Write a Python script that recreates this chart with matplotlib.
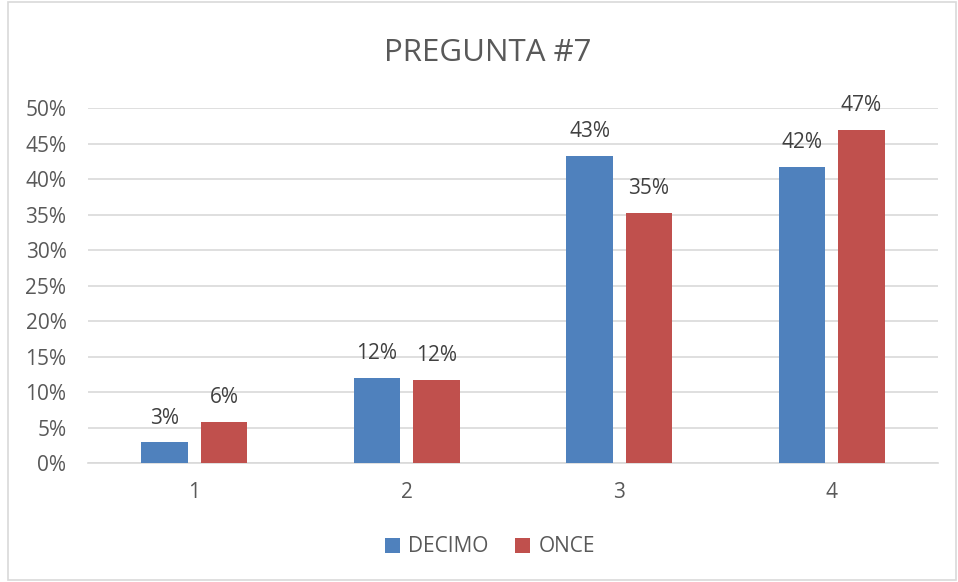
import numpy as np
import matplotlib.pyplot as plt
from matplotlib.patches import Rectangle

# data
categories = ['1', '2', '3', '4']
decimo = [2.9, 11.95, 43.3, 41.75]
once = [5.85, 11.7, 35.25, 47.0]
decimo_labels = ['3%', '12%', '43%', '42%']
once_labels = ['6%', '12%', '35%', '47%']

plt.rcParams['font.family'] = ['Open Sans', 'DejaVu Sans']
txt = '#595959'
grid = '#D9D9D9'

fig = plt.figure(figsize=(9.58, 5.82), dpi=100)
ax = fig.add_axes([88/958, 1-463/582, 850/958, (463-108.3)/582])

x = np.arange(1, len(categories) + 1)
w = 0.22
b1 = ax.bar(x - 0.14, decimo, w, color='#4F81BD', label='DECIMO', zorder=3)
b2 = ax.bar(x + 0.14, once, w, color='#C0504D', label='ONCE', zorder=3)

for bars, labels in ((b1, decimo_labels), (b2, once_labels)):
    for r, lab in zip(bars, labels):
        ax.annotate(lab, (r.get_x() + r.get_width()/2, r.get_height()),
                    xytext=(0, 10), textcoords='offset points',
                    ha='center', va='bottom', fontsize=15, color='#404040')

ax.set_xlim(0.5, 4.5)
ax.set_ylim(0, 50)
ax.set_yticks(np.arange(0, 51, 5))
ax.set_yticklabels([f'{v}%' for v in range(0, 51, 5)])
ax.set_xticks(x)
ax.set_xticklabels(categories)
ax.tick_params(axis='both', length=0, labelsize=15, colors=txt)
ax.tick_params(axis='y', pad=15.5)
ax.tick_params(axis='x', pad=14)
ax.yaxis.grid(True, color=grid, linewidth=1.2, zorder=0)
for s in ('top', 'right', 'left'):
    ax.spines[s].set_visible(False)
ax.spines['bottom'].set_color(grid)
ax.spines['bottom'].set_linewidth(1.2)

fig.text(488/958, 1-53/582, 'PREGUNTA #7', ha='center', va='center',
         fontsize=22.5, color=txt)

ax.legend(loc='center', bbox_to_anchor=(490/958, 1-547/582),
          bbox_transform=fig.transFigure, ncol=2, frameon=False,
          fontsize=15, labelcolor=txt, handlelength=0.7, handleheight=0.7,
          handletextpad=0.4, columnspacing=1.3)

# outer chart border
fig.patches.append(Rectangle((8/958, 0.003), 948/958, 0.994, transform=fig.transFigure,
                             fill=False, edgecolor='#D9D9D9', linewidth=1.2))

fig.savefig('out.png', dpi=100)
